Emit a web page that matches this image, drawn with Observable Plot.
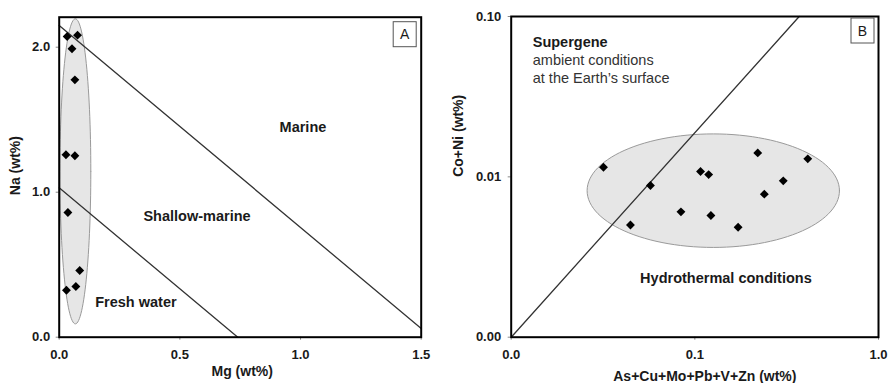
<!DOCTYPE html>
<html>
<head>
<meta charset="utf-8">
<script src="https://cdn.jsdelivr.net/npm/d3@7"></script>
<script src="https://cdn.jsdelivr.net/npm/@observablehq/plot@0.6"></script>
<style>
  html, body { margin: 0; padding: 0; background: white; }
  #wrap { display: flex; width: 888px; height: 383px; }
  #wrap svg { display: block; }
</style>
</head>
<body>
<div id="wrap"></div>
<script>
// ---------- Panel A data ----------
const aMg = [0.033, 0.076, 0.053, 0.065, 0.028, 0.065, 0.036, 0.085, 0.069, 0.030];
const aNa = [2.074, 2.083, 1.989, 1.775, 1.258, 1.251, 0.860, 0.460, 0.350, 0.324];
const aXTicks = [0, 0.5, 1.0, 1.5];
const aYTicks = [0, 1, 2];
const aUpperLine = [{x: 0, y: 2.15}, {x: 1.5, y: 0.06}];
const aLowerLine = [{x: 0, y: 1.03}, {x: 0.74, y: 0}];
const aEllipse = {cx: 0.067, cy: 1.144, rx: 0.064, ry: 1.052};
const aLabels = [
  {x: 1.01, y: 1.45, text: "Marine"},
  {x: 0.571, y: 0.83, text: "Shallow-marine"},
  {x: 0.318, y: 0.24, text: "Fresh water"}
];

// ---------- Panel B data ----------
const bSum = [0.0318, 0.0573, 0.0446, 0.0840, 0.1074, 0.1189, 0.1223, 0.172, 0.220, 0.239, 0.303, 0.412];
const bCoNi = [0.01148, 0.00883, 0.00501, 0.00605, 0.0108, 0.01033, 0.00574, 0.00485, 0.0141, 0.0078, 0.00944, 0.01295];
const bXTicks = [0.01, 0.1, 1];
const bXTickLabels = ["0.0", "0.1", "1.0"];
const bYTicks = [0.001, 0.01, 0.1];
const bYTickLabels = ["0.00", "0.01", "0.10"];
const bLine = [{x: 0.01, y: 0.001}, {x: 0.37, y: 0.1}];
const bEllipse = {cx: 0.126, cy: 0.0082, rxDec: 0.687, ryDec: 0.354};
const bLabelsBold = [
  {x: 0.0131, y: 0.0686, text: "Supergene"},
  {x: 0.1476, y: 0.00234, text: "Hydrothermal conditions"}
];
const bLabelsPlain = [
  {x: 0.0131, y: 0.0529, text: "ambient conditions"},
  {x: 0.0131, y: 0.0409, text: "at the Earth\u2019s surface"}
];

const FONT = "'Liberation Sans', Arial, Helvetica, sans-serif";
const TXT = "#1a1a1a";

function ellipseLinear(e) {
  return d3.range(0, 361, 3).map(a => {
    const t = a * Math.PI / 180;
    return {x: e.cx + e.rx * Math.cos(t), y: e.cy + e.ry * Math.sin(t)};
  });
}
function ellipseLog(e) {
  const lx = Math.log10(e.cx), ly = Math.log10(e.cy);
  return d3.range(0, 361, 3).map(a => {
    const t = a * Math.PI / 180;
    return {x: Math.pow(10, lx + e.rxDec * Math.cos(t)), y: Math.pow(10, ly + e.ryDec * Math.sin(t))};
  });
}
function panelBox(letter, rightInset, topInset) {
  return (index, scales, values, dims) => {
    const w = 23, h = 25;
    const x0 = dims.width - dims.marginRight - rightInset - w;
    const y0 = dims.marginTop + topInset;
    const g = d3.create("svg:g");
    g.append("rect").attr("x", x0).attr("y", y0).attr("width", w).attr("height", h)
      .attr("fill", "white").attr("stroke", "#555").attr("stroke-width", 1);
    g.append("text").attr("x", x0 + w / 2).attr("y", y0 + h / 2).attr("dy", "0.36em")
      .attr("text-anchor", "middle").attr("font-size", 14).attr("font-family", FONT)
      .attr("fill", TXT).text(letter);
    return g.node();
  };
}
function lookup(ticks, labels) {
  return d => {
    const k = ticks.findIndex(t => Math.abs(t - d) < t * 1e-6);
    return k >= 0 ? labels[k] : "";
  };
}

const aPoints = aMg.map((m, i) => ({x: m, y: aNa[i]}));
const bPoints = bSum.map((s, i) => ({x: s, y: bCoNi[i]}));

const plotA = Plot.plot({
  width: 444, height: 383,
  marginLeft: 58.7, marginRight: 23.3, marginTop: 16.7, marginBottom: 46.3,
  x: {domain: [0, 1.5]},
  y: {domain: [0, 2.207]},
  style: {fontFamily: FONT, background: "white", color: TXT},
  marks: [
    Plot.line(ellipseLinear(aEllipse), {x: "x", y: "y", fill: "#e6e6e6", stroke: "#9a9a9a", strokeWidth: 1}),
    Plot.line(aUpperLine, {x: "x", y: "y", stroke: "#333", strokeWidth: 1.3}),
    Plot.line(aLowerLine, {x: "x", y: "y", stroke: "#333", strokeWidth: 1.3}),
    Plot.dot(aPoints, {x: "x", y: "y", symbol: "diamond2", fill: "black", r: 4}),
    Plot.text(aLabels, {x: "x", y: "y", text: "text", fontSize: 14.5, fontWeight: "bold", fill: TXT}),
    Plot.axisX({ticks: aXTicks, tickFormat: d3.format(".1f"), tickSize: 3, tickPadding: 10, stroke: "#888",
      fontSize: 13, fontWeight: "bold", fill: TXT, label: null}),
    Plot.axisY({ticks: aYTicks, tickFormat: d3.format(".1f"), tickSize: 3, tickPadding: 6, stroke: "#888",
      fontSize: 13, fontWeight: "bold", fill: TXT, label: null}),
    Plot.text(["Mg (wt%)"], {frameAnchor: "bottom", dy: 34, dx: 2, fontSize: 14, fontWeight: "bold", fill: TXT, lineAnchor: "middle"}),
    Plot.text(["Na (wt%)"], {frameAnchor: "left", dx: -43.7, dy: 18, rotate: -90, fontSize: 14, fontWeight: "bold", fill: TXT, lineAnchor: "middle"}),
    Plot.frame({stroke: "black", strokeWidth: 2}),
    panelBox("A", 4.5, 5)
  ]
});

const plotB = Plot.plot({
  width: 444, height: 383,
  marginLeft: 66.7, marginRight: 10, marginTop: 16, marginBottom: 46.3,
  x: {type: "log", domain: [0.01, 1]},
  y: {type: "log", domain: [0.001, 0.1]},
  style: {fontFamily: FONT, background: "white", color: TXT},
  marks: [
    Plot.line(ellipseLog(bEllipse), {x: "x", y: "y", fill: "#e6e6e6", stroke: "#9a9a9a", strokeWidth: 1}),
    Plot.line(bLine, {x: "x", y: "y", stroke: "#333", strokeWidth: 1.3}),
    Plot.dot(bPoints, {x: "x", y: "y", symbol: "diamond2", fill: "black", r: 4}),
    Plot.text(bLabelsBold.slice(0, 1), {x: "x", y: "y", text: "text", textAnchor: "start", fontSize: 14.5, fontWeight: "bold", fill: TXT}),
    Plot.text(bLabelsPlain, {x: "x", y: "y", text: "text", textAnchor: "start", fontSize: 14.5, fill: "#333"}),
    Plot.text(bLabelsBold.slice(1), {x: "x", y: "y", text: "text", fontSize: 14.5, fontWeight: "bold", fill: TXT}),
    Plot.axisX({ticks: bXTicks, tickFormat: lookup(bXTicks, bXTickLabels), tickSize: 3, tickPadding: 10, stroke: "#888",
      fontSize: 13, fontWeight: "bold", fill: TXT, label: null}),
    Plot.axisY({ticks: bYTicks, tickFormat: lookup(bYTicks, bYTickLabels), tickSize: 3, tickPadding: 7, stroke: "#888",
      fontSize: 13, fontWeight: "bold", fill: TXT, label: null}),
    Plot.text(["As+Cu+Mo+Pb+V+Zn (wt%)"], {frameAnchor: "bottom", dy: 39, dx: 10, fontSize: 14, fontWeight: "bold", fill: TXT, lineAnchor: "middle"}),
    Plot.text(["Co+Ni (wt%)"], {frameAnchor: "left", dx: -52.7, dy: 0, rotate: -90, fontSize: 14, fontWeight: "bold", fill: TXT, lineAnchor: "middle"}),
    Plot.frame({stroke: "black", strokeWidth: 2}),
    panelBox("B", 4, 2)
  ]
});

document.getElementById("wrap").append(plotA, plotB);
</script>
</body>
</html>
